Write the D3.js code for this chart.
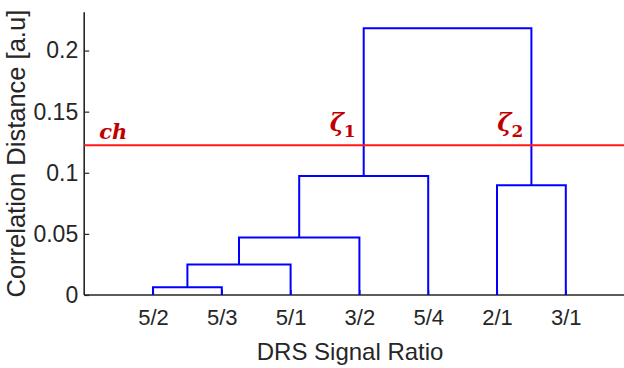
<!DOCTYPE html>
<html>
<head>
<meta charset="utf-8">
<script src="https://cdn.jsdelivr.net/npm/d3@7"></script>
<style>
  html, body { margin: 0; padding: 0; background: #fff; }
  svg { display: block; }
</style>
</head>
<body>
<svg id="chart" width="624" height="368"></svg>
<script>
// ---- Data ----
const leaves = ["5/2", "5/3", "5/1", "3/2", "5/4", "2/1", "3/1"];
// merges: [left node, right node, height]; leaf nodes 0..6, new clusters 7..
const mergeLeft   = [0, 7, 8, 9, 5, 10];
const mergeRight  = [1, 2, 3, 4, 6, 11];
const mergeHeight = [0.0063, 0.025, 0.047, 0.0973, 0.0897, 0.2182];
const cutHeight = 0.1225;
const yTicks = [0, 0.05, 0.1, 0.15, 0.2];
const yMax = 0.2313;
const cutLabel = "ch";
const zetaLabels = [{ node: 10, sub: "1" }, { node: 11, sub: "2" }];

// ---- Layout ----
const svg = d3.select("#chart");
const x = d3.scaleLinear().domain([0, leaves.length + 1]).range([84.2, 634.6]);
const y = d3.scaleLinear().domain([0, yMax]).range([295, 12.3]);
const axisColor = "#262626";
const blue = "#0000ff";
const sans = "'Liberation Sans', Arial, sans-serif";

// node positions
const nodeX = leaves.map((_, i) => i + 1);
const nodeY = leaves.map(() => 0);
mergeLeft.forEach((l, k) => {
  const r = mergeRight[k];
  nodeX.push((nodeX[l] + nodeX[r]) / 2);
  nodeY.push(mergeHeight[k]);
});

// ---- Axes ----
const yAxis = d3.axisLeft(y).tickValues(yTicks).tickSize(-5).tickPadding(6)
  .tickFormat(d => d === 0 ? "0" : String(+d.toFixed(2)));
const gy = svg.append("g").attr("transform", `translate(${x(0)},0)`).call(yAxis);
gy.select(".domain").attr("stroke", axisColor).attr("stroke-width", 1.6)
  .attr("d", `M0,${y(yMax)}V${y(0)}`);
gy.selectAll(".tick line").attr("stroke", axisColor).attr("stroke-width", 1.2);
gy.selectAll(".tick text").attr("fill", axisColor)
  .style("font-family", sans).style("font-size", "23px");

const xAxis = d3.axisBottom(x).tickValues(nodeX.slice(0, leaves.length))
  .tickFormat((d, i) => leaves[i]).tickSize(-5).tickPadding(14);
const gx = svg.append("g").attr("transform", `translate(0,${y(0)})`).call(xAxis);
gx.select(".domain").attr("stroke", axisColor).attr("stroke-width", 1.6)
  .attr("d", `M${x(0)},0H${x(leaves.length + 1)}`);
gx.selectAll(".tick line").attr("stroke", axisColor).attr("stroke-width", 1.2);
gx.selectAll(".tick text").attr("fill", axisColor)
  .style("font-family", sans).style("font-size", "22px");

// axis titles
svg.append("text")
  .attr("x", (x(0) + 624) / 2 - 4).attr("y", 360)
  .attr("text-anchor", "middle").attr("fill", axisColor)
  .style("font-family", sans).style("font-size", "24px")
  .text("DRS Signal Ratio");
svg.append("text")
  .attr("transform", `translate(25,${(y(0) + y(yMax)) / 2}) rotate(-90)`)
  .attr("text-anchor", "middle").attr("fill", axisColor)
  .style("font-family", sans).style("font-size", "25.5px")
  .text("Correlation Distance [a.u]");

// ---- Dendrogram links ----
const links = svg.append("g").attr("fill", "none").attr("stroke", blue).attr("stroke-width", 2);
mergeLeft.forEach((l, k) => {
  const r = mergeRight[k];
  const h = mergeHeight[k];
  links.append("path").attr("d",
    `M${x(nodeX[l])},${y(nodeY[l])}V${y(h)}H${x(nodeX[r])}V${y(nodeY[r])}`);
});

// ---- Cut line ----
svg.append("line")
  .attr("x1", x(0)).attr("x2", 624)
  .attr("y1", y(cutHeight)).attr("y2", y(cutHeight))
  .attr("stroke", "#ff1a1a").attr("stroke-width", 2);

const labelFont = "'DejaVu Serif', 'Liberation Serif', serif";
const labelColor = "#c00000";
svg.append("text")
  .attr("x", x(0) + 15).attr("y", y(cutHeight) - 6)
  .attr("fill", labelColor)
  .style("font-family", labelFont).style("font-size", "21px")
  .style("font-weight", "bold").style("font-style", "italic")
  .text(cutLabel);

zetaLabels.forEach(z => {
  const t = svg.append("text")
    .attr("x", x(nodeX[z.node]) - 8).attr("y", y(cutHeight) - 14)
    .attr("text-anchor", "end").attr("fill", labelColor)
    .style("font-family", labelFont).style("font-size", "24px")
    .style("font-weight", "bold").style("font-style", "italic");
  t.append("tspan").text("ζ");
  t.append("tspan").attr("dy", 6).style("font-size", "17px").style("font-style", "normal").text(z.sub);
});
</script>
</body>
</html>
